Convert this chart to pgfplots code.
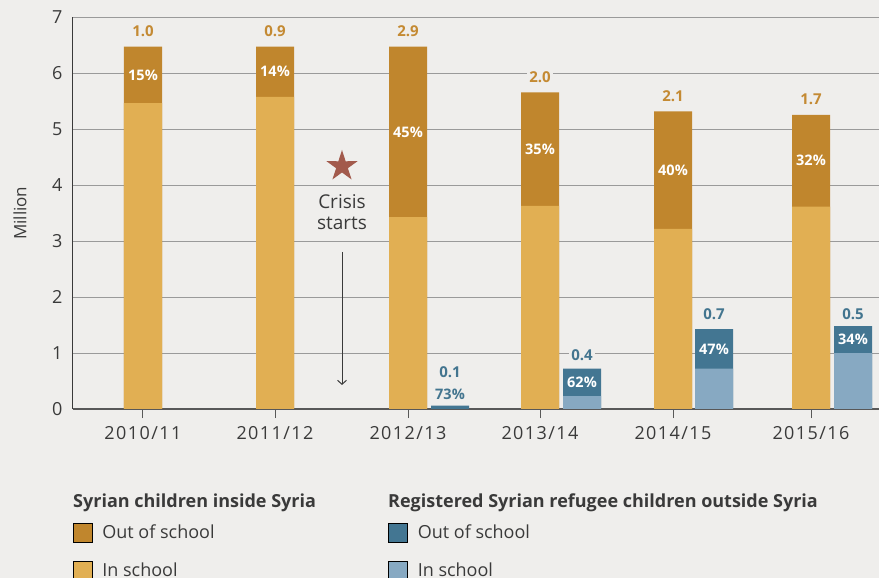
\documentclass[border=0pt]{standalone}
\usepackage{pgfplots}
\pgfplotsset{compat=1.18}
\usepackage{fontspec}
\setmainfont{Open Sans}
\newfontfamily\tickfont[LetterSpace=8]{Open Sans}
\usetikzlibrary{arrows.meta}
\definecolor{bg}{HTML}{EFEEEC}
\definecolor{sout}{HTML}{C0862D}
\definecolor{sin}{HTML}{E1AF53}
\definecolor{rout}{HTML}{437692}
\definecolor{rin}{HTML}{87A9C2}
\definecolor{txt}{HTML}{3A3A3A}
\definecolor{gridc}{HTML}{9A9A9A}
\definecolor{starc}{HTML}{A25A4C}
\definecolor{olab}{HTML}{C48A33}
\definecolor{blab}{HTML}{43758F}
\pgfdeclareplotmark{fstar}{%
  \pgfpathmoveto{\pgfpointpolar{90}{16.3pt}}%
  \pgfpathlineto{\pgfpointpolar{126}{6.2pt}}%
  \pgfpathlineto{\pgfpointpolar{162}{16.3pt}}%
  \pgfpathlineto{\pgfpointpolar{198}{6.2pt}}%
  \pgfpathlineto{\pgfpointpolar{234}{16.3pt}}%
  \pgfpathlineto{\pgfpointpolar{270}{6.2pt}}%
  \pgfpathlineto{\pgfpointpolar{306}{16.3pt}}%
  \pgfpathlineto{\pgfpointpolar{342}{6.2pt}}%
  \pgfpathlineto{\pgfpointpolar{18}{16.3pt}}%
  \pgfpathlineto{\pgfpointpolar{54}{6.2pt}}%
  \pgfpathclose\pgfusepathqfill}
\pgfplotsset{sq/.style={legend image code/.code={\fill[##1] (0pt,-9.5pt) rectangle (19pt,9.5pt);}},
  barst/.style={ybar, bar width=38, bar shift=0pt, draw=none}}
\tikzset{vlab/.style={font=\bfseries\fontsize{15}{17}\selectfont, inner sep=2pt, fill=bg},
  plab/.style={font=\bfseries\fontsize{14.5}{16}\selectfont, inner sep=1pt, text=white}}
\begin{document}
\begin{tikzpicture}
\useasboundingbox (-73pt,-169pt) rectangle (806pt,409pt);
\fill[bg] (-73pt,-169pt) rectangle (806pt,409pt);
\begin{axis}[
  scale only axis, width=806pt, height=391.5pt,
  xmin=0, xmax=806, ymin=0, ymax=7,
  axis lines=left, axis line style={-},
  x axis line style={draw=txt!85, line width=1.3pt},
  y axis line style={draw=txt, line width=1pt},
  xtick={70,202,335,467,600,738},
  xticklabels={2010/11,2011/12,2012/13,2013/14,2014/15,2015/16},
  ytick={0,1,2,3,4,5,6,7},
  ymajorgrids, grid style={gridc, line width=0.9pt},
  tick align=outside, major tick length=9pt,
  xtick style={draw=txt!85, line width=1pt},
  ytick style={draw=none},
  ticklabel style={font=\tickfont\fontsize{18}{20}\selectfont, text=txt},
  xticklabel style={yshift=-5pt},
  yticklabel style={xshift=2pt},
  /pgf/number format/assume math mode=true,
  ylabel={Million},
  ylabel style={at={(axis description cs:-0.0658,0.5)}, anchor=center, font=\fontsize{17}{19}\selectfont, text=txt},
  clip=false,
  legend columns=2,
  legend style={at={(0,0)}, anchor=north west, yshift=-113.7pt, draw=none, fill=none,
    inner sep=0pt, outer sep=0pt, row sep=18.5pt,
    nodes={inner sep=0pt, text=txt},
    font=\fontsize{18}{20}\selectfont,
    /tikz/every odd column/.style={column sep=10pt}},
  legend cell align=left,
]
% Syrian children inside Syria: total (out of school on top) and in school
\addplot[barst, fill=sout, forget plot] coordinates {(70,6.48) (202,6.48) (335,6.48) (467,5.66) (600,5.32) (738,5.26)};
\addplot[barst, fill=sin, forget plot] coordinates {(70,5.47) (202,5.58) (335,3.43) (467,3.63) (600,3.22) (738,3.62)};
% Registered Syrian refugee children outside Syria
\addplot[barst, fill=rout, forget plot] coordinates {(377,0.06) (509,0.72) (641,1.43) (780,1.48)};
\addplot[barst, fill=rin, forget plot] coordinates {(509,0.23) (641,0.72) (780,1.00)};
% star
\addplot[only marks, mark=fstar, color=starc, forget plot] coordinates {(269,4.34)};

\addlegendimage{sq, fill=sout}\addlegendentry{\makebox[286pt][l]{Out of school}}
\addlegendimage{sq, fill=rout}\addlegendentry{Out of school}
\addlegendimage{sq, fill=sin}\addlegendentry{\makebox[286pt][l]{In school}}
\addlegendimage{sq, fill=rin}\addlegendentry{In school}

% value labels
\node[vlab, text=olab] at (axis cs:70,6.76) {1.0};
\node[vlab, text=olab] at (axis cs:202,6.76) {0.9};
\node[vlab, text=olab] at (axis cs:335,6.76) {2.9};
\node[vlab, text=olab] at (axis cs:467,5.94) {2.0};
\node[vlab, text=olab] at (axis cs:600,5.60) {2.1};
\node[vlab, text=olab] at (axis cs:738,5.54) {1.7};
\node[plab] at (axis cs:70,5.975) {15\%};
\node[plab] at (axis cs:202,6.03) {14\%};
\node[plab] at (axis cs:335,4.955) {45\%};
\node[plab] at (axis cs:467,4.645) {35\%};
\node[plab] at (axis cs:600,4.27) {40\%};
\node[plab] at (axis cs:738,4.44) {32\%};
\node[vlab, text=blab] at (axis cs:377,0.66) {0.1};
\node[vlab, text=blab] at (axis cs:509,0.97) {0.4};
\node[vlab, text=blab] at (axis cs:641,1.70) {0.7};
\node[vlab, text=blab] at (axis cs:780,1.70) {0.5};
\node[plab, text=blab] at (axis cs:377,0.27) {73\%};
\node[plab] at (axis cs:509,0.475) {62\%};
\node[plab] at (axis cs:641,1.075) {47\%};
\node[plab] at (axis cs:780,1.24) {34\%};
% crisis annotation
\node[align=center, font=\fontsize{19}{21}\selectfont, text=txt] at (axis cs:269,3.52) {Crisis\\starts};
\draw[txt, line width=1pt, -{Straight Barb[length=4pt,width=9pt]}] (axis cs:269,2.81) -- (axis cs:269,0.43);
\end{axis}
\node[anchor=base west, inner sep=0pt, text=txt, font=\bfseries\fontsize{18}{20}\selectfont] at (0pt,-98.7pt) {Syrian children inside Syria};
\node[anchor=base west, inner sep=0pt, text=txt, font=\bfseries\fontsize{18}{20}\selectfont] at (315pt,-98.7pt) {Registered Syrian refugee children outside Syria};
\end{tikzpicture}
\end{document}
